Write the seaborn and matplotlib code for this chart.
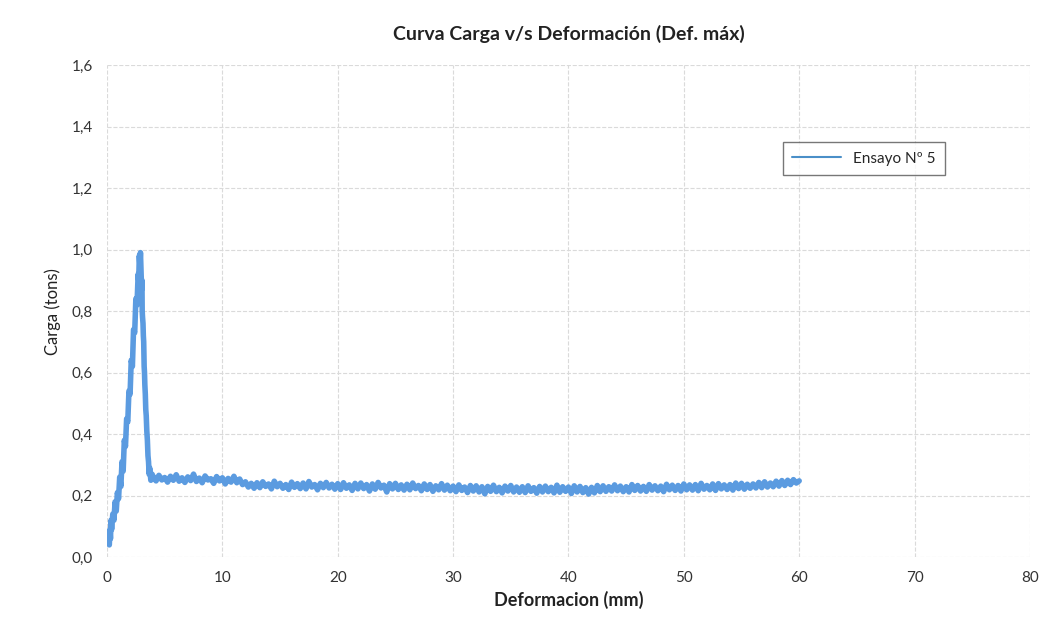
import numpy as np
import pandas as pd
import matplotlib.pyplot as plt
import seaborn as sns
from matplotlib.ticker import FuncFormatter, MultipleLocator

# Peak zone: deformation (mm) and load (tons)
def_peak = [0.20, 0.25, 0.30, 0.35, 0.40, 0.50, 0.60, 0.70, 0.80, 0.90,
            1.00, 1.10, 1.20, 1.30, 1.40, 1.50, 1.60, 1.70, 1.80, 1.90,
            2.00, 2.10, 2.20, 2.30, 2.40, 2.50, 2.60, 2.70, 2.75, 2.80,
            2.85, 2.90, 2.95, 3.00, 3.03, 3.05, 3.08, 3.12, 3.15, 3.18,
            3.20, 3.22, 3.25, 3.28, 3.32, 3.36, 3.40, 3.45, 3.50, 3.55,
            3.60, 3.65, 3.70, 3.80, 3.90]
carga_peak = [0.04, 0.09, 0.06, 0.12, 0.09, 0.14, 0.12, 0.18, 0.15, 0.21,
              0.19, 0.26, 0.23, 0.31, 0.28, 0.38, 0.36, 0.45, 0.44, 0.54,
              0.53, 0.64, 0.62, 0.74, 0.73, 0.84, 0.82, 0.92, 0.90, 0.98,
              0.95, 0.99, 0.93, 0.87, 0.90, 0.80, 0.78, 0.76, 0.72, 0.70,
              0.66, 0.62, 0.60, 0.56, 0.53, 0.48, 0.46, 0.41, 0.38, 0.33,
              0.31, 0.27, 0.29, 0.25, 0.27]

# Residual zone: readings every 0.25 mm from 4 to 60 mm
def_flat = np.round(np.arange(4.0, 60.001, 0.25), 2)
carga_flat = [
    0.262, 0.248, 0.266, 0.251, 0.259, 0.244, 0.263, 0.250,
    0.268, 0.247, 0.258, 0.243, 0.261, 0.249, 0.270, 0.246,
    0.257, 0.242, 0.264, 0.251, 0.255, 0.240, 0.262, 0.248,
    0.258, 0.238, 0.256, 0.244, 0.263, 0.242, 0.254, 0.236,
    0.245, 0.228, 0.240, 0.224, 0.242, 0.226, 0.245, 0.230,
    0.238, 0.222, 0.247, 0.229, 0.240, 0.224, 0.236, 0.220,
    0.244, 0.227, 0.239, 0.223, 0.241, 0.222, 0.246, 0.228,
    0.236, 0.219, 0.240, 0.226, 0.243, 0.225, 0.237, 0.221,
    0.239, 0.220, 0.242, 0.224, 0.235, 0.217, 0.240, 0.222,
    0.241, 0.223, 0.236, 0.215, 0.238, 0.221, 0.243, 0.225,
    0.234, 0.212, 0.239, 0.222, 0.240, 0.220, 0.235, 0.218,
    0.237, 0.219, 0.241, 0.223, 0.233, 0.216, 0.238, 0.220,
    0.236, 0.214, 0.232, 0.219, 0.239, 0.218, 0.234, 0.216,
    0.231, 0.213, 0.235, 0.217, 0.228, 0.210, 0.233, 0.215,
    0.232, 0.212, 0.229, 0.206, 0.230, 0.214, 0.234, 0.213,
    0.227, 0.209, 0.231, 0.215, 0.233, 0.212, 0.228, 0.211,
    0.229, 0.210, 0.232, 0.214, 0.226, 0.208, 0.230, 0.212,
    0.231, 0.213, 0.227, 0.209, 0.234, 0.211, 0.229, 0.214,
    0.228, 0.207, 0.232, 0.212, 0.230, 0.210, 0.226, 0.205,
    0.227, 0.209, 0.233, 0.213, 0.232, 0.214, 0.229, 0.215,
    0.235, 0.216, 0.231, 0.213, 0.229, 0.212, 0.236, 0.217,
    0.233, 0.215, 0.230, 0.214, 0.236, 0.218, 0.232, 0.216,
    0.231, 0.213, 0.237, 0.219, 0.234, 0.217, 0.233, 0.215,
    0.238, 0.219, 0.235, 0.218, 0.236, 0.216, 0.240, 0.221,
    0.233, 0.219, 0.238, 0.217, 0.239, 0.222, 0.235, 0.220,
    0.236, 0.218, 0.241, 0.223, 0.240, 0.221, 0.237, 0.224,
    0.238, 0.225, 0.243, 0.226, 0.245, 0.228, 0.241, 0.229,
    0.247, 0.231, 0.249, 0.233, 0.250, 0.236, 0.252, 0.241,
    0.248]

x_ticks = [0, 10, 20, 30, 40, 50, 60, 70, 80]
y_ticks = [0.0, 0.2, 0.4, 0.6, 0.8, 1.0, 1.2, 1.4, 1.6]

df = pd.DataFrame({
    'Deformacion': list(def_peak) + list(def_flat),
    'Carga': carga_peak + carga_flat,
    'Serie': 'Ensayo Nº 5',
})

sns.set_style('white')
plt.rcParams['font.family'] = ['Lato', 'DejaVu Sans']

fig = plt.figure(figsize=(10.44, 6.31), dpi=100)
ax = fig.add_axes([0.1025, 0.117, 0.884, 0.780])

sns.lineplot(data=df, x='Deformacion', y='Carga', hue='Serie', sort=False,
             estimator=None, palette=['#5b9be0'], linewidth=4.0, ax=ax)

ax.set_xlim(0, 80)
ax.set_ylim(0, 1.6)
ax.set_xticks(x_ticks)
ax.set_yticks(y_ticks)
ax.yaxis.set_major_formatter(FuncFormatter(lambda v, p: f'{v:.1f}'.replace('.', ',')))
ax.grid(True, color='#dadada', linestyle='--', linewidth=0.8)
for s in ax.spines.values():
    s.set_visible(False)
ax.tick_params(axis='both', length=0, labelsize=11, colors='#333333', pad=10)

ax.set_title('Curva Carga v/s Deformación (Def. máx)', fontsize=14,
             fontweight='bold', color='#222222', pad=18)
ax.set_xlabel('Deformacion (mm)', fontsize=13, fontweight='bold', color='#222222')
ax.set_ylabel('Carga (tons)', fontsize=12, color='#222222', labelpad=8)

leg = ax.legend(loc='center', bbox_to_anchor=(0.82, 0.81), frameon=True,
                fancybox=False, edgecolor='#555555', fontsize=11,
                handlelength=3.2, borderpad=0.6)
for line in leg.get_lines():
    line.set_linewidth(1.5)
    line.set_color('#4a8fc8')

fig.savefig('out.png', dpi=100)
